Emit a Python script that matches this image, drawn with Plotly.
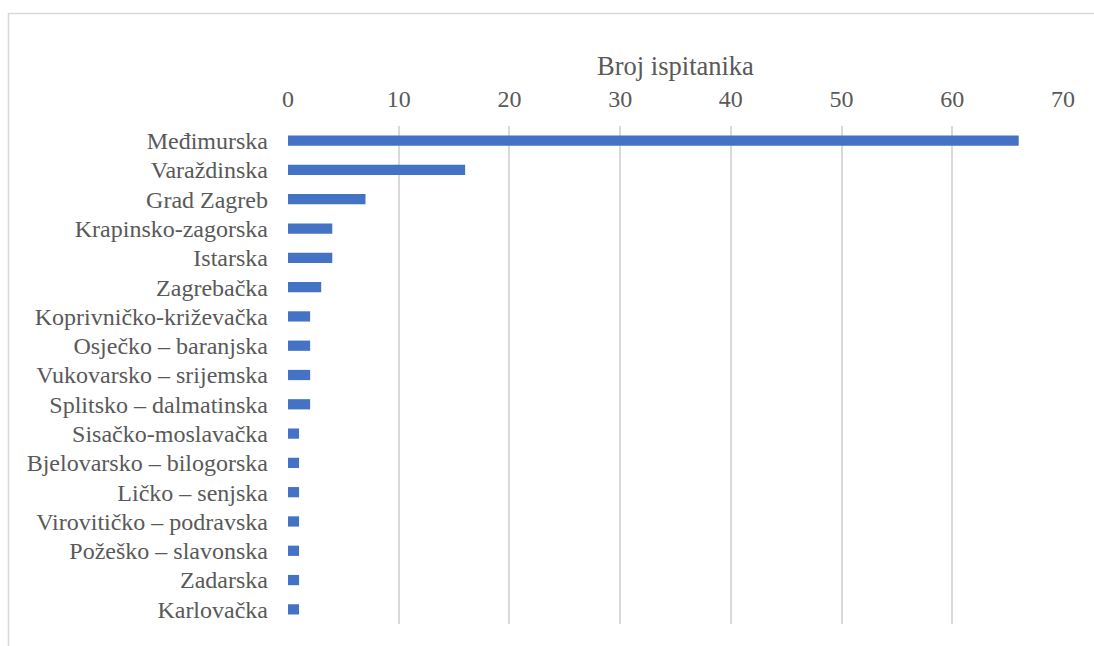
import plotly.graph_objects as go

categories = ["Međimurska", "Varaždinska", "Grad Zagreb", "Krapinsko-zagorska", "Istarska",
              "Zagrebačka", "Koprivničko-križevačka", "Osječko – baranjska",
              "Vukovarsko – srijemska", "Splitsko – dalmatinska", "Sisačko-moslavačka",
              "Bjelovarsko – bilogorska", "Ličko – senjska", "Virovitičko – podravska",
              "Požeško – slavonska", "Zadarska", "Karlovačka"]
values = [66, 16, 7, 4, 4, 3, 2, 2, 2, 2, 1, 1, 1, 1, 1, 1, 1]
tick_vals = [0, 10, 20, 30, 40, 50, 60, 70]
axis_title = "Broj ispitanika"

FONT = "Liberation Serif, Times New Roman, serif"
GRAY = "#595959"

fig = go.Figure(go.Bar(
    x=values, y=categories, orientation="h",
    marker=dict(color="#4472C4", line=dict(width=0)),
    hoverinfo="x+y",
))

fig.update_layout(
    width=1094, height=646,
    margin=dict(l=288, r=31, t=126, b=22),
    paper_bgcolor="white", plot_bgcolor="white",
    bargap=0.65,
    showlegend=False,
    font=dict(family=FONT, color=GRAY, size=24),
    xaxis=dict(
        side="top", range=[0, 70], tickvals=tick_vals,
        showgrid=True, gridcolor="#d9d9d9", gridwidth=1.5,
        zeroline=False, showline=False, ticks="",
        tickfont=dict(family=FONT, size=24, color=GRAY),
        ticklabelstandoff=13,
        title=dict(text=axis_title, font=dict(family=FONT, size=26.5, color=GRAY), standoff=2),
    ),
    yaxis=dict(
        autorange="reversed", showgrid=False, zeroline=False, showline=False, ticks="",
        tickfont=dict(family=FONT, size=24, color=GRAY),
        ticklabelstandoff=19,
    ),
    shapes=[dict(type="rect", xref="paper", yref="paper",
                 x0=(8.5 - 288) / 775, x1=(1110 - 288) / 775,
                 y0=(624 - 660) / 498, y1=(624 - 13.5) / 498,
                 line=dict(color="#d9d9d9", width=1.5), fillcolor="rgba(0,0,0,0)", layer="below")],
)

fig.write_html("out.html", config={"displayModeBar": False},
               post_script="document.body.style.margin='0';")
